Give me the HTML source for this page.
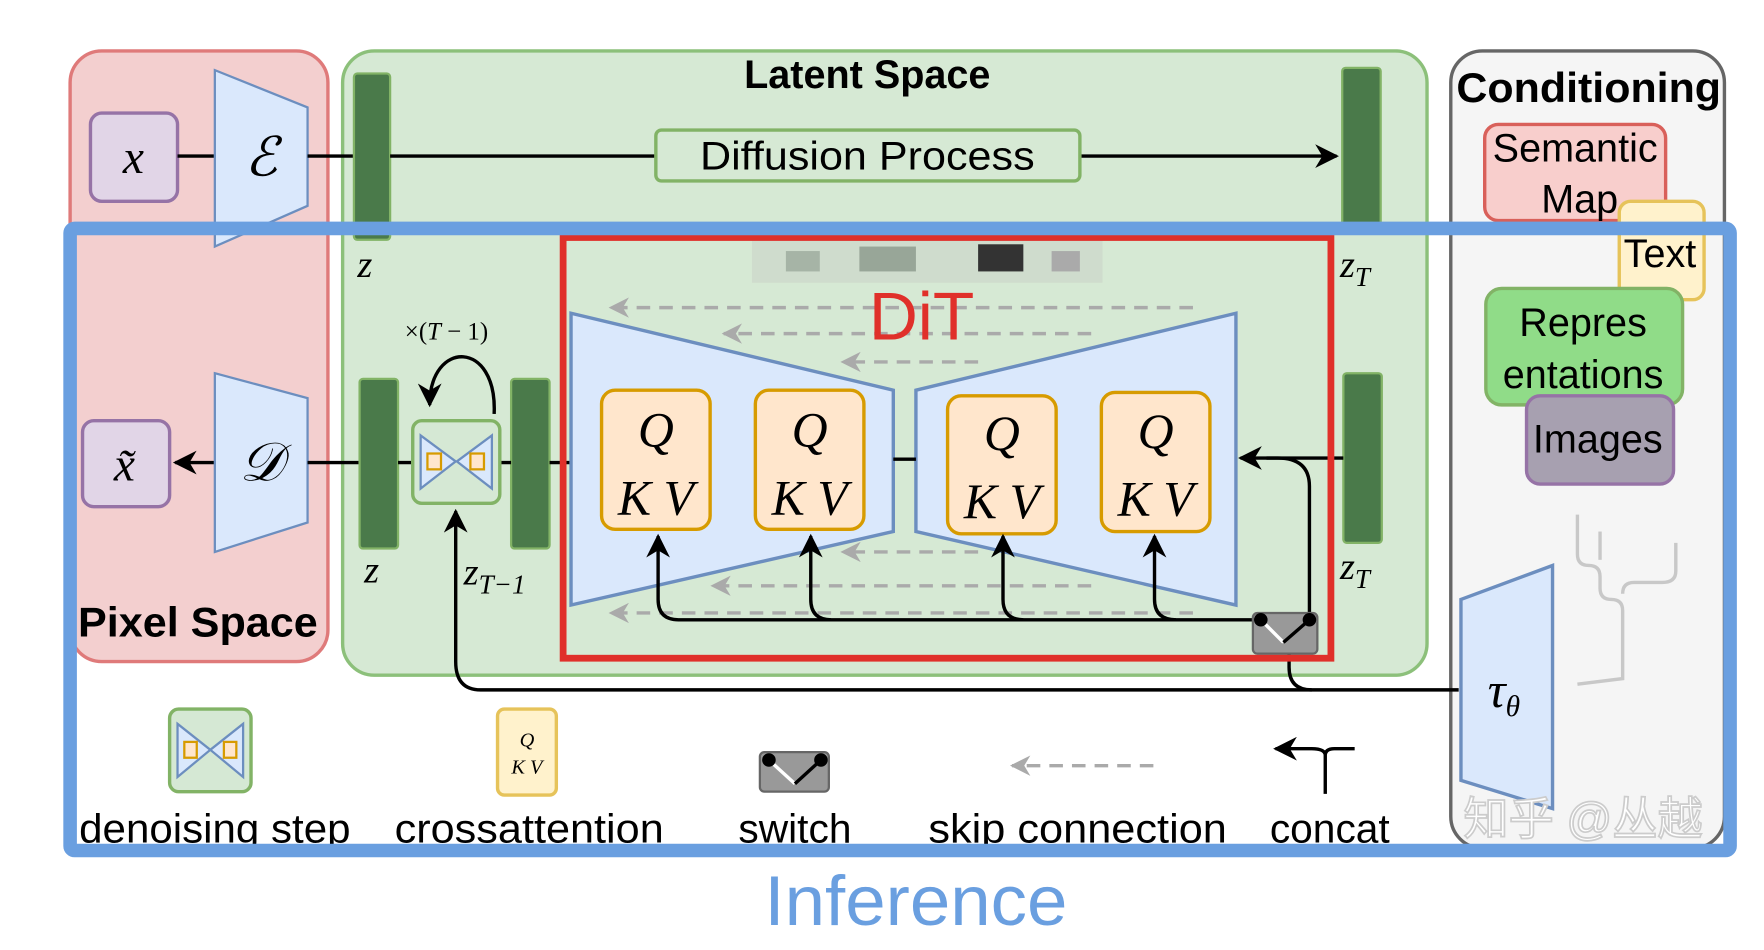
<!DOCTYPE html>
<html><head><meta charset="utf-8"><style>html,body{margin:0;padding:0;background:#fff}svg{display:block}</style></head>
<body>
<svg width="1764" height="950" viewBox="0 0 1560 840" preserveAspectRatio="none" xmlns="http://www.w3.org/2000/svg" font-family="Liberation Sans, sans-serif">
<defs>
<marker id="ah" viewBox="0 0 10 10" refX="9" refY="5" markerWidth="7" markerHeight="7" orient="auto-start-reverse"><path d="M0,0 L10,5 L0,10 L3,5z" fill="#000"/></marker>
<marker id="gh" viewBox="0 0 10 10" refX="9" refY="5" markerWidth="6" markerHeight="6" orient="auto-start-reverse"><path d="M0,0 L10,5 L0,10 L3,5z" fill="#aaa"/></marker>
</defs>
<rect x="62" y="45" width="228" height="540" rx="28" fill="#f3cfcf" stroke="#df7a7a" stroke-width="3"/>
<rect x="303" y="45" width="959" height="552" rx="28" fill="#d6e9d4" stroke="#8cc07a" stroke-width="3"/>
<rect x="1283" y="45" width="242" height="705" rx="28" fill="#f5f5f5" stroke="#666" stroke-width="3"/>
<text x="767" y="78" text-anchor="middle" font-size="35" font-weight="bold">Latent Space</text>
<text x="1405" y="90" text-anchor="middle" font-size="37" font-weight="bold" textLength="234" lengthAdjust="spacingAndGlyphs">Conditioning</text>
<text x="175" y="563" text-anchor="middle" font-size="37" font-weight="bold" textLength="212" lengthAdjust="spacingAndGlyphs">Pixel Space</text>
<!-- top row -->
<rect x="80" y="100" width="77" height="78" rx="10" fill="#e1d5e7" stroke="#9673a6" stroke-width="3"/>
<text x="118" y="153" text-anchor="middle" font-size="42" font-style="italic" font-family="Liberation Serif, serif">x</text>
<line x1="157" y1="138" x2="190" y2="138" stroke="#000" stroke-width="3"/>
<polygon points="190,62 272,95 272,182 190,218" fill="#dae8fc" stroke="#6c8ebf" stroke-width="2"/>
<text x="231" y="155" text-anchor="middle" font-size="48" font-style="italic" font-family="Liberation Serif, serif">ℰ</text>
<line x1="272" y1="138" x2="313" y2="138" stroke="#000" stroke-width="3"/>
<rect x="313" y="65" width="32" height="147" rx="3" fill="#4a7a4a" stroke="#82b366" stroke-width="2"/>
<rect x="1187" y="60" width="34" height="140" rx="3" fill="#4a7a4a" stroke="#82b366" stroke-width="2"/>
<line x1="345" y1="138" x2="1182" y2="138" stroke="#000" stroke-width="3" marker-end="url(#ah)"/>
<rect x="580" y="115" width="375" height="45" rx="5" fill="#d6e9d4" stroke="#82b366" stroke-width="3"/>
<text x="767" y="150" text-anchor="middle" font-size="35" textLength="296" lengthAdjust="spacingAndGlyphs">Diffusion Process</text>
<g font-family="Liberation Serif, serif" font-style="italic" font-size="34">
<text x="316" y="245">z</text><text x="1185" y="245">z<tspan font-size="24" dy="8">T</tspan></text>
<text x="322" y="515">z</text><text x="1185" y="512">z<tspan font-size="24" dy="8">T</tspan></text>
<text x="410" y="517">z<tspan font-size="24" dy="8">T−1</tspan></text>
<text x="358" y="300" font-size="22" font-style="normal">×(<tspan font-style="italic">T</tspan> − 1)</text>
</g>
<!-- lower row -->
<rect x="73" y="372" width="77" height="76" rx="10" fill="#e1d5e7" stroke="#9673a6" stroke-width="3"/>
<text x="110" y="425" text-anchor="middle" font-size="42" font-style="italic" font-family="Liberation Serif, serif">x̃</text>
<line x1="190" y1="409" x2="155" y2="409" stroke="#000" stroke-width="3" marker-end="url(#ah)"/>
<polygon points="190,330 272,352 272,462 190,488" fill="#dae8fc" stroke="#6c8ebf" stroke-width="2"/>
<text x="231" y="425" text-anchor="middle" font-size="48" font-style="italic" font-family="Liberation Serif, serif">𝒟</text>
<line x1="272" y1="409" x2="318" y2="409" stroke="#000" stroke-width="3"/>
<rect x="318" y="335" width="34" height="150" rx="3" fill="#4a7a4a" stroke="#82b366" stroke-width="2"/>
<rect x="452" y="335" width="34" height="150" rx="3" fill="#4a7a4a" stroke="#82b366" stroke-width="2"/>
<rect x="1188" y="330" width="34" height="150" rx="3" fill="#4a7a4a" stroke="#82b366" stroke-width="2"/>
<line x1="352" y1="409" x2="365" y2="409" stroke="#000" stroke-width="3"/>
<line x1="442" y1="409" x2="452" y2="409" stroke="#000" stroke-width="3"/>
<line x1="486" y1="409" x2="505" y2="409" stroke="#000" stroke-width="3"/>
<rect x="365" y="372" width="77" height="73" rx="8" fill="#d5e8d4" stroke="#82b366" stroke-width="3"/>
<polygon points="372,385 403,408 372,432" fill="#dae8fc" stroke="#6c8ebf" stroke-width="2"/>
<polygon points="435,385 404,408 435,432" fill="#dae8fc" stroke="#6c8ebf" stroke-width="2"/>
<rect x="378" y="401" width="12" height="14" fill="#ffe6cc" stroke="#d79b00" stroke-width="2"/>
<rect x="416" y="401" width="12" height="14" fill="#ffe6cc" stroke="#d79b00" stroke-width="2"/>
<path d="M437,366 C440,300 380,300 380,358" fill="none" stroke="#000" stroke-width="3" marker-end="url(#ah)"/>
<!-- DiT area -->
<rect x="665" y="212" width="310" height="38" fill="#cfdccd"/>
<rect x="695" y="222" width="30" height="18" fill="#a6b4a6"/><rect x="760" y="218" width="50" height="22" fill="#98a698"/><rect x="865" y="216" width="40" height="24" fill="#333"/><rect x="930" y="222" width="25" height="18" fill="#aaa"/>
<polygon points="505,277 790,345 790,470 505,535" fill="#dae8fc" stroke="#6c8ebf" stroke-width="3"/>
<polygon points="810,345 1093,277 1093,535 810,470" fill="#dae8fc" stroke="#6c8ebf" stroke-width="3"/>
<line x1="790" y1="406" x2="810" y2="406" stroke="#000" stroke-width="3"/>
<g stroke="#aaa" stroke-width="3" stroke-dasharray="12,8" fill="none">
<line x1="1055" y1="272" x2="540" y2="272" marker-end="url(#gh)"/>
<line x1="965" y1="295" x2="640" y2="295" marker-end="url(#gh)"/>
<line x1="865" y1="320" x2="745" y2="320" marker-end="url(#gh)"/>
<line x1="865" y1="488" x2="745" y2="488" marker-end="url(#gh)"/>
<line x1="965" y1="518" x2="630" y2="518" marker-end="url(#gh)"/>
<line x1="1055" y1="542" x2="540" y2="542" marker-end="url(#gh)"/>
</g>
<g font-family="Liberation Serif, serif" font-style="italic" font-size="44" text-anchor="middle">
<rect x="532" y="345" width="96" height="123" rx="12" fill="#ffe6cc" stroke="#d79b00" stroke-width="3"/>
<text x="580" y="395">Q</text><text x="580" y="455">K V</text>
<rect x="668" y="345" width="96" height="123" rx="12" fill="#ffe6cc" stroke="#d79b00" stroke-width="3"/>
<text x="716" y="395">Q</text><text x="716" y="455">K V</text>
<rect x="838" y="350" width="96" height="122" rx="12" fill="#ffe6cc" stroke="#d79b00" stroke-width="3"/>
<text x="886" y="398">Q</text><text x="886" y="458">K V</text>
<rect x="974" y="347" width="96" height="123" rx="12" fill="#ffe6cc" stroke="#d79b00" stroke-width="3"/>
<text x="1022" y="396">Q</text><text x="1022" y="456">K V</text>
</g>
<g stroke="#000" stroke-width="3" fill="none">
<path d="M1115,548 L600,548 Q582,548 582,530 L582,474" marker-end="url(#ah)"/>
<path d="M735,548 Q717,548 717,530 L717,474" marker-end="url(#ah)"/>
<path d="M905,548 Q887,548 887,530 L887,474" marker-end="url(#ah)"/>
<path d="M1040,548 Q1021,548 1021,530 L1021,474" marker-end="url(#ah)"/>
<path d="M1158,548 L1158,430 Q1158,405 1130,405 L1097,405" marker-end="url(#ah)"/>
<line x1="1188" y1="405" x2="1120" y2="405"/>
<path d="M1290,610 L425,610 Q403,610 403,585 L403,452" marker-end="url(#ah)"/>
<path d="M1160,610 Q1140,610 1140,590 L1140,578"/>
</g>
<rect x="1108" y="542" width="57" height="36" rx="4" fill="#999" stroke="#666" stroke-width="2"/>
<line x1="1115" y1="548" x2="1135" y2="568" stroke="#fff" stroke-width="3"/><line x1="1135" y1="568" x2="1158" y2="548" stroke="#000" stroke-width="3"/>
<circle cx="1115" cy="548" r="6" fill="#000"/><circle cx="1158" cy="548" r="6" fill="#000"/>
<text x="815" y="300" text-anchor="middle" font-size="60" fill="#e0302a">DiT</text>
<!-- conditioning -->
<rect x="1313" y="110" width="160" height="85" rx="12" fill="#f8cecc" stroke="#d9605a" stroke-width="3"/>
<text x="1393" y="143" text-anchor="middle" font-size="35">Semantic</text>
<text x="1397" y="188" text-anchor="middle" font-size="35">Map</text>
<rect x="1432" y="178" width="75" height="87" rx="10" fill="#fff2cc" stroke="#e6c35a" stroke-width="3"/>
<text x="1468" y="236" text-anchor="middle" font-size="35">Text</text>
<rect x="1314" y="255" width="174" height="103" rx="14" fill="#90dc88" stroke="#82b366" stroke-width="3"/>
<text x="1400" y="297" text-anchor="middle" font-size="35">Repres</text>
<text x="1400" y="343" text-anchor="middle" font-size="35">entations</text>
<rect x="1350" y="350" width="130" height="78" rx="12" fill="#a7a0b0" stroke="#9673a6" stroke-width="3"/>
<text x="1413" y="400" text-anchor="middle" font-size="35">Images</text>
<g stroke="#c8c8c8" stroke-width="3" fill="none">
<path d="M1395,455 L1395,490 Q1395,500 1405,500 Q1415,500 1415,510 L1415,520 Q1415,530 1425,530 Q1435,530 1435,540 L1435,600 L1395,605"/>
<path d="M1415,470 L1415,495"/><path d="M1482,480 L1482,505 Q1482,515 1470,515 L1445,515 Q1435,515 1435,525"/>
</g>
<polygon points="1292,530 1373,500 1373,715 1292,690" fill="#dae8fc" stroke="#6c8ebf" stroke-width="3"/>
<text x="1330" y="625" text-anchor="middle" font-size="44" font-style="italic" font-family="Liberation Serif, serif">τ<tspan font-size="26" dy="8">θ</tspan></text>
<!-- legend -->
<rect x="150" y="627" width="72" height="73" rx="8" fill="#d5e8d4" stroke="#82b366" stroke-width="3"/>
<polygon points="157,640 186,663 157,687" fill="#dae8fc" stroke="#6c8ebf" stroke-width="2"/>
<polygon points="215,640 186,663 215,687" fill="#dae8fc" stroke="#6c8ebf" stroke-width="2"/>
<rect x="163" y="656" width="11" height="14" fill="#ffe6cc" stroke="#d79b00" stroke-width="2"/>
<rect x="198" y="656" width="11" height="14" fill="#ffe6cc" stroke="#d79b00" stroke-width="2"/>
<rect x="440" y="627" width="52" height="76" rx="6" fill="#fff2cc" stroke="#e6c35a" stroke-width="3"/>
<text x="466" y="660" text-anchor="middle" font-size="18" font-style="italic" font-family="Liberation Serif, serif">Q</text>
<text x="466" y="684" text-anchor="middle" font-size="18" font-style="italic" font-family="Liberation Serif, serif">K V</text>
<rect x="672" y="665" width="61" height="35" rx="4" fill="#999" stroke="#666" stroke-width="2"/>
<line x1="680" y1="672" x2="703" y2="693" stroke="#fff" stroke-width="3"/><line x1="703" y1="693" x2="726" y2="672" stroke="#000" stroke-width="3"/>
<circle cx="680" cy="672" r="6" fill="#000"/><circle cx="726" cy="672" r="6" fill="#000"/>
<line x1="1020" y1="677" x2="895" y2="677" stroke="#aaa" stroke-width="3" stroke-dasharray="12,8" marker-end="url(#gh)"/>
<path d="M1172,702 L1172,668 Q1172,662 1180,662 L1198,662 M1172,668 Q1172,662 1160,662 L1128,662" fill="none" stroke="#000" stroke-width="3" marker-end="url(#ah)"/>
<g font-size="36" text-anchor="middle">
<text x="190" y="745" textLength="240" lengthAdjust="spacingAndGlyphs">denoising step</text>
<text x="468" y="745" textLength="238" lengthAdjust="spacingAndGlyphs">crossattention</text>
<text x="703" y="745">switch</text>
<text x="953" y="745" textLength="264" lengthAdjust="spacingAndGlyphs">skip connection</text>
<text x="1176" y="745">concat</text>
</g>
<text x="1400" y="738" text-anchor="middle" font-size="40" fill="#fff" stroke="#ccc" stroke-width="1.5" font-family="Liberation Sans, Noto Sans CJK SC, sans-serif">知乎 @丛越</text>
<!-- frames -->
<rect x="498" y="210" width="679" height="372" fill="none" stroke="#e0302a" stroke-width="6"/>
<rect x="62" y="202" width="1468" height="550" rx="4" fill="none" stroke="#6a9fe0" stroke-width="12"/>
<text x="810" y="818" text-anchor="middle" font-size="62" fill="#6a9fe0" textLength="268" lengthAdjust="spacingAndGlyphs">Inference</text>
</svg>
</body></html>
